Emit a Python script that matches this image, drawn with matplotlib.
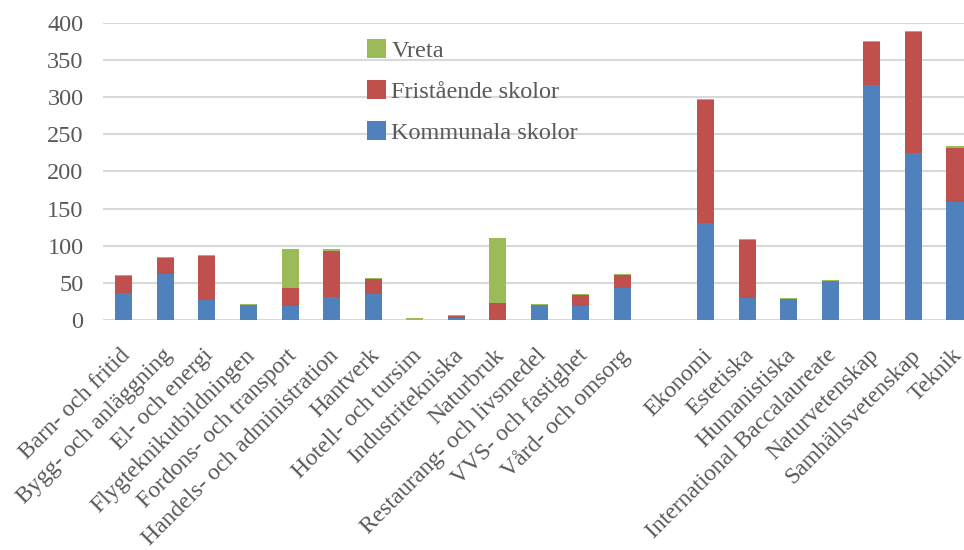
import matplotlib
matplotlib.use("Agg")
import matplotlib.pyplot as plt
import matplotlib.transforms as mtransforms
import numpy as np

categories = ["Barn- och fritid", "Bygg- och anläggning", "El- och energi",
              "Flygteknikutbildningen", "Fordons- och transport",
              "Handels- och administration", "Hantverk", "Hotell- och tursim",
              "Industritekniska", "Naturbruk", "Restaurang- och livsmedel",
              "VVS- och fastighet", "Vård- och omsorg", "",
              "Ekonomi", "Estetiska", "Humanistiska", "International Baccalaureate",
              "Naturvetenskap", "Samhällsvetenskap", "Teknik"]
kommunala = [36, 62, 27, 20, 19, 31, 35, 0, 3, 0, 20, 19, 43, 0,
             130, 30, 28, 52, 316, 225, 159]
fristaende = [23, 21, 59, 0, 24, 62, 20, 0.5, 3, 23, 0, 14, 17, 0,
              166, 77, 0, 0, 58, 163, 73]
vreta = [1, 1.5, 1, 2, 52, 2, 2, 2, 1, 87, 1.5, 1.5, 1.5, 0,
         1.5, 1.5, 2, 2, 2, 1.5, 1.5]

series_names = ["Kommunala skolor", "Fristående skolor", "Vreta"]
colors = ["#4F81BD", "#C0504D", "#9BBB59"]

plt.rcParams['font.family'] = ['Liberation Serif', 'DejaVu Serif']
text_color = "#595959"
fs = 17.5
fx = 17

fig = plt.figure(figsize=(9.64, 5.5), dpi=100)
ax = fig.add_axes([103/964, (550-320)/550, 1 - 103/964, (320-22.7)/550])

x = np.arange(len(categories))
k = np.array(kommunala, dtype=float)
f = np.array(fristaende, dtype=float)
v = np.array(vreta, dtype=float)
w = 0.41
b1 = ax.bar(x, k, w, color=colors[0], label=series_names[0], zorder=3)
b2 = ax.bar(x, f, w, bottom=k, color=colors[1], label=series_names[1], zorder=3)
b3 = ax.bar(x, v, w, bottom=k + f, color=colors[2], label=series_names[2], zorder=3)

ax.set_ylim(0, 400)
ax.set_xlim(-0.5, 20 + 9/41.6)
ax.set_yticks(range(0, 401, 50))
ax.yaxis.grid(True, color="#D9D9D9", linewidth=1.5, zorder=0)
ax.set_axisbelow(True)
for s in ax.spines.values():
    s.set_visible(False)
ax.tick_params(axis='both', length=0, labelsize=fs, colors=text_color)
ax.tick_params(axis='y', pad=14)

ax.set_xticks(x)
ax.set_xticklabels(categories, rotation=45, ha='right', rotation_mode='anchor',
                   fontsize=fx, color=text_color)
offset = mtransforms.ScaledTranslation(-4/100, -20/100, fig.dpi_scale_trans)
for lbl in ax.get_xticklabels():
    lbl.set_transform(lbl.get_transform() + offset)

leg = ax.legend(handles=[b3, b2, b1], labels=[series_names[2], series_names[1], series_names[0]],
                loc='upper left', bbox_to_anchor=((367-103)/861, (320-39)/297.3),
                frameon=False, fontsize=fs, labelcolor=text_color,
                handlelength=0.8, handleheight=0.8, handletextpad=0.2,
                labelspacing=0.75, borderaxespad=0, borderpad=0)

fig.savefig("out.png", dpi=100)
